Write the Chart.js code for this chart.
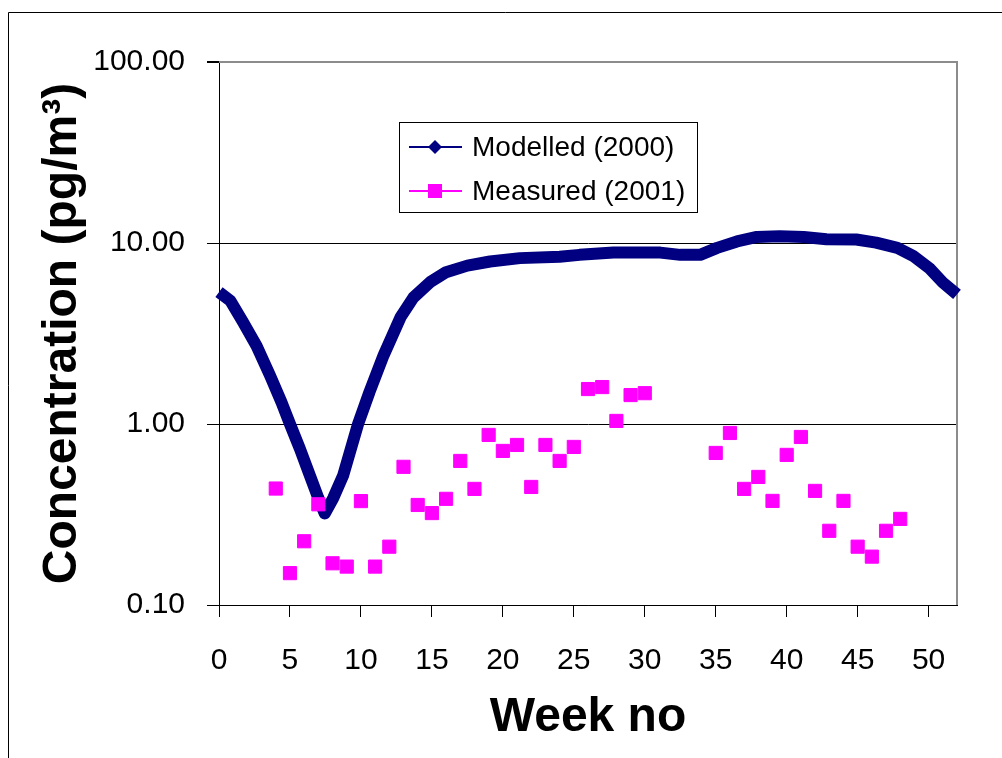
<!DOCTYPE html>
<html>
<head>
<meta charset="utf-8">
<title>Concentration by week</title>
<script src="https://cdn.jsdelivr.net/npm/chart.js@4.4.1/dist/chart.umd.min.js"></script>
<style>
  html, body { margin: 0; padding: 0; background: #fff; }
  #wrap { width: 1002px; height: 758px; }
</style>
</head>
<body>
<div id="wrap"><canvas id="chart" width="1002" height="758"></canvas></div>
<script>
// Modelled curve (week, pg/m3)
const modelledWeeks = [0, 0.8, 1.7, 2.65, 3.6, 4.4, 5.0, 5.7, 6.4, 7.0, 7.45, 8.05, 8.75, 9.8, 10.6, 11.6, 12.8, 13.7, 14.9, 16.0, 17.5, 19.1, 21.2, 24.0, 25.4, 27.8, 31.1, 32.5, 33.9, 35.1, 36.5, 37.9, 39.5, 41.2, 42.8, 44.9, 46.3, 47.8, 48.9, 50.1, 51.0, 52.0]
const modelledValues = [5.35, 4.8, 3.65, 2.7, 1.85, 1.32, 1.0, 0.73, 0.52, 0.39, 0.32, 0.39, 0.52, 1.0, 1.5, 2.4, 3.9, 5.0, 6.1, 6.9, 7.5, 7.9, 8.25, 8.4, 8.6, 8.85, 8.85, 8.6, 8.6, 9.4, 10.2, 10.8, 10.9, 10.8, 10.5, 10.45, 10.05, 9.4, 8.5, 7.2, 6.05, 5.2]

// Measured weekly samples
const measuredWeeks = [4, 5, 6, 7, 8, 9, 10, 11, 12, 13, 14, 15, 16, 17, 18, 19, 20, 21, 22, 23, 24, 25, 26, 27, 28, 29, 30, 35, 36, 37, 38, 39, 40, 41, 42, 43, 44, 45, 46, 47, 48]
const measuredValues = [0.44, 0.15, 0.225, 0.36, 0.17, 0.163, 0.375, 0.163, 0.21, 0.58, 0.357, 0.322, 0.386, 0.625, 0.438, 0.87, 0.71, 0.766, 0.449, 0.766, 0.625, 0.747, 1.56, 1.6, 1.04, 1.445, 1.48, 0.692, 0.892, 0.438, 0.51, 0.376, 0.675, 0.848, 0.427, 0.257, 0.376, 0.21, 0.185, 0.257, 0.299]

const xTicks = [0, 5, 10, 15, 20, 25, 30, 35, 40, 45, 50]
const yTicks = [0.1, 1, 10, 100]
const seriesNames = ["Modelled (2000)", "Measured (2001)"]

const NAVY = "#000080"
const MAGENTA = "#FF00FF"
const FONT = "'Liberation Sans', Arial, sans-serif"

// outer chart frame + plot area top/right border
const framePlugin = {
  id: "frame",
  beforeDraw(chart) {
    const ctx = chart.ctx
    ctx.save()
    ctx.fillStyle = "#fff"
    ctx.fillRect(0, 0, chart.width, chart.height)
    ctx.strokeStyle = "#000"
    ctx.lineWidth = 1
    ctx.beginPath()
    ctx.moveTo(8.5, chart.height)
    ctx.lineTo(8.5, 12.5)
    ctx.lineTo(chart.width, 12.5)
    ctx.stroke()
    ctx.restore()
  },
  beforeDatasetsDraw(chart) {
    const { ctx, chartArea: a } = chart
    ctx.save()
    ctx.strokeStyle = "#8c8c8c"
    ctx.lineWidth = 2
    ctx.beginPath()
    ctx.moveTo(a.left, a.top)
    ctx.lineTo(a.right, a.top)
    ctx.lineTo(a.right, a.bottom)
    ctx.stroke()
    ctx.restore()
  },
}

// Excel-style legend: line with marker, then label
const legendPlugin = {
  id: "boxLegend",
  afterDraw(chart) {
    const ctx = chart.ctx
    const box = { x: 399.5, y: 122.5, w: 298, h: 90 }
    ctx.save()
    ctx.fillStyle = "#fff"
    ctx.fillRect(box.x, box.y, box.w, box.h)
    ctx.strokeStyle = "#000"
    ctx.lineWidth = 1
    ctx.strokeRect(box.x, box.y, box.w, box.h)
    const rows = [
      { label: seriesNames[0], color: NAVY, marker: "diamond", y: 147 },
      { label: seriesNames[1], color: MAGENTA, marker: "square", y: 191 },
    ]
    rows.forEach((r) => {
      ctx.strokeStyle = r.color
      ctx.lineWidth = 2
      ctx.beginPath()
      ctx.moveTo(409, r.y)
      ctx.lineTo(462, r.y)
      ctx.stroke()
      ctx.fillStyle = r.color
      ctx.beginPath()
      if (r.marker === "diamond") {
        ctx.moveTo(435, r.y - 7)
        ctx.lineTo(442, r.y)
        ctx.lineTo(435, r.y + 7)
        ctx.lineTo(428, r.y)
        ctx.closePath()
      } else {
        ctx.rect(428, r.y - 7, 14, 14)
      }
      ctx.fill()
      ctx.fillStyle = "#000"
      ctx.font = "28px " + FONT
      ctx.textBaseline = "middle"
      ctx.textAlign = "left"
      ctx.fillText(r.label, 472, r.y + 1)
    })
    ctx.restore()
  },
}

const modelled = modelledWeeks.map((w, i) => ({ x: w, y: modelledValues[i] }))
const measured = measuredWeeks.map((w, i) => ({ x: w, y: measuredValues[i] }))

new Chart(document.getElementById("chart"), {
  type: "line",
  data: {
    datasets: [
      {
        label: seriesNames[1],
        data: measured,
        showLine: false,
        pointStyle: "rect",
        pointRadius: 9.3,
        pointBorderWidth: 1,
        pointBackgroundColor: MAGENTA,
        pointBorderColor: MAGENTA,
        order: 0,
        clip: false,
      },
      {
        label: seriesNames[0],
        data: modelled,
        borderColor: NAVY,
        borderWidth: 12,
        borderJoinStyle: "round",
        borderCapStyle: "butt",
        pointRadius: 0,
        tension: 0,
        order: 1,
        clip: false,
      },
    ],
  },
  options: {
    responsive: false,
    animation: false,
    events: [],
    layout: { padding: { left: 0, top: 62, right: 45, bottom: 0 }, autoPadding: false },
    plugins: {
      legend: { display: false },
      tooltip: { enabled: false },
    },
    scales: {
      x: {
        type: "linear",
        min: 0,
        max: 52,
        afterFit(scale) { scale.height = 153 },
        afterBuildTicks(scale) { scale.ticks = xTicks.map((v) => ({ value: v })) },
        border: { color: "#000", width: 1 },
        grid: { drawOnChartArea: false, tickLength: 12, color: "#000", tickColor: "#000" },
        ticks: {
          autoSkip: false,
          maxRotation: 0,
          padding: 26,
          color: "#000",
          font: { family: FONT, size: 30 },
        },
        title: {
          display: true,
          text: "Week no",
          color: "#000",
          font: { family: FONT, size: 48, weight: "bold" },
          padding: { top: 0, bottom: 11 },
        },
      },
      y: {
        type: "logarithmic",
        min: 0.1,
        max: 100,
        afterFit(scale) { scale.width = 219 },
        afterBuildTicks(scale) { scale.ticks = yTicks.map((v) => ({ value: v })) },
        border: { color: "#000", width: 1 },
        grid: {
          tickLength: 12,
          tickColor: "#000",
          color: (c) => (c.tick && c.tick.value === 100 ? "#8c8c8c" : "#000"),
          lineWidth: (c) => (c.tick && c.tick.value === 100 ? 2 : 1),
        },
        ticks: {
          padding: 22,
          color: "#000",
          font: { family: FONT, size: 30 },
          callback: (v) => Number(v).toFixed(2),
        },
        title: {
          display: true,
          text: "Concentration (pg/m³)",
          color: "#000",
          font: { family: FONT, size: 48, weight: "bold" },
          padding: { top: 34, bottom: 0 },
        },
      },
    },
  },
  plugins: [framePlugin, legendPlugin],
})
</script>
</body>
</html>
